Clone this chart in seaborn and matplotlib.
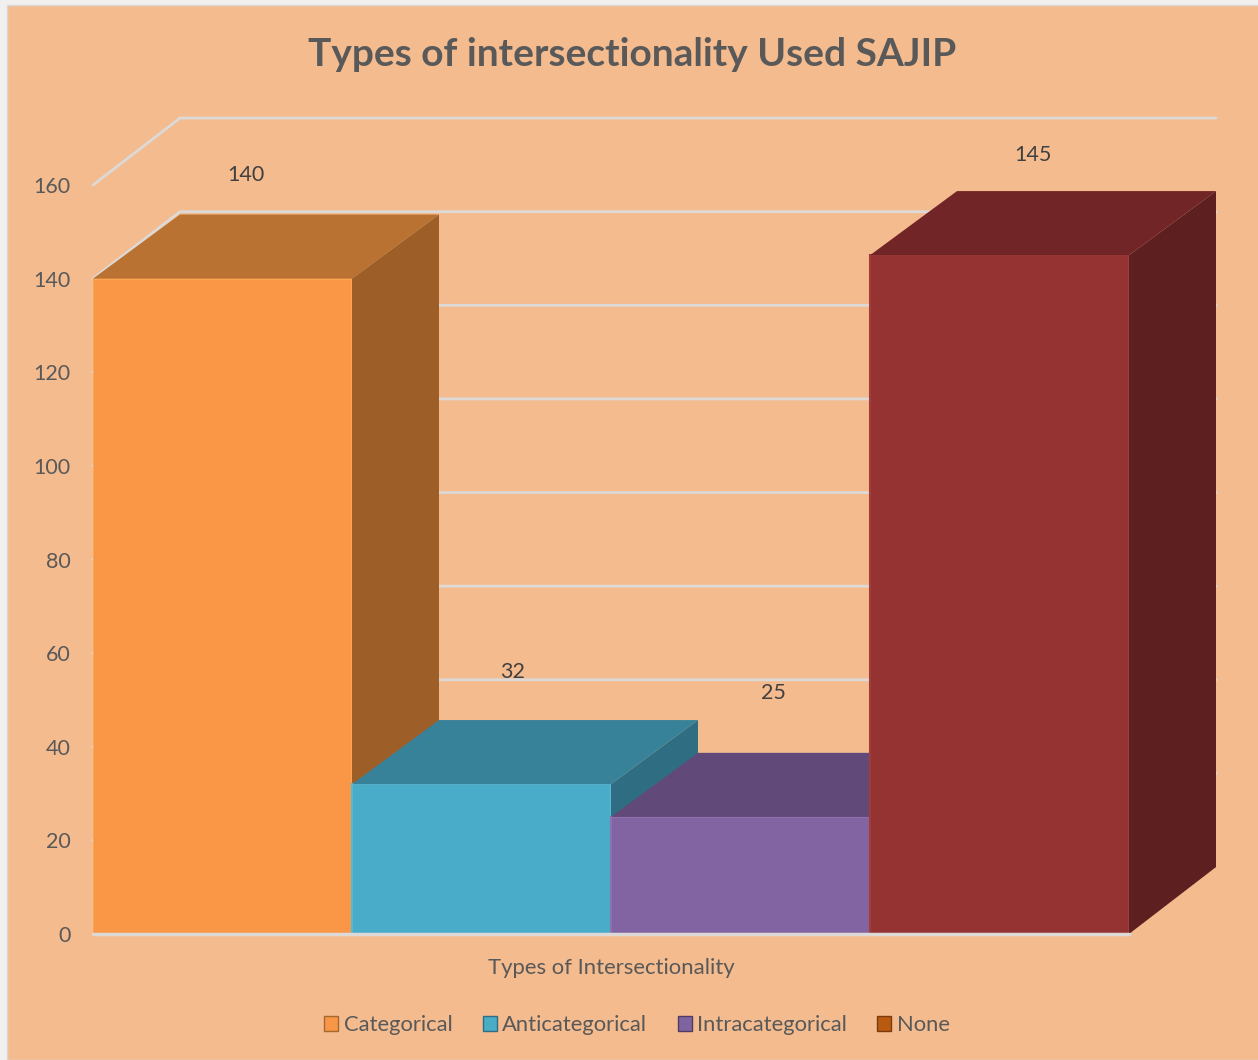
import pandas as pd
import matplotlib.pyplot as plt
import seaborn as sns
from matplotlib.patches import Patch, Polygon, Rectangle

categories = ["Categorical", "Anticategorical", "Intracategorical", "None"]
counts = [140, 32, 25, 145]
y_ticks = [0, 20, 40, 60, 80, 100, 120, 140, 160]

front_colors = ["#FA9746", "#49ACC8", "#8364A3", "#953333"]
top_colors = ["#B97231", "#388299", "#614A7A", "#722526"]
side_colors = ["#9E5E28", "#2F6E82", "#4F3C64", "#5E1F20"]
edge_colors = ["#FDA550", "#5AB9D2", "#9071B0", "#A03C3A"]
legend_colors = ["#F79646", "#4BACC6", "#8064A2", "#B85A10"]
legend_edges = ["#A5682F", "#2F6E82", "#4F3C64", "#7A3C0C"]

# pixel offsets of the value labels from the top centre of each bar
label_offsets = [(23, 104), (31, 112), (33, 124), (33, 100)]

BG = "#F4BB8F"
GRID = "#DCD9D6"
TEXT = "#595959"
DEPTH_X = 87 / 259   # in category units
DEPTH_Y = 14.3       # in value units
TOP_DEPTH_Y = 13.7   # bevelled bar tops stop a little short of the full depth

sns.set_theme(style="white")
plt.rcParams["font.family"] = ["Lato", "DejaVu Sans"]

fig = plt.figure(figsize=(12.58, 10.60), dpi=100, facecolor="#F2F0EE")
fig.patches.append(Rectangle((7 / 1258, 0), 1, 1055 / 1060, transform=fig.transFigure,
                             facecolor=BG, edgecolor="#D9D9D9", lw=1, zorder=-1))
ax = fig.add_axes([93 / 1258, 126 / 1060, 1036 / 1258, 749 / 1060])
ax.patch.set_alpha(0)

df = pd.DataFrame({"type": categories, "count": counts})
sns.barplot(data=df, x="type", y="count", hue="type", order=categories,
            palette=dict(zip(categories, front_colors)), width=1, dodge=False,
            saturation=1, legend=False, ax=ax)
ax.set_xlim(-0.5, 3.5)
ax.set_ylim(0, 160)

# back wall gridlines with the short diagonal on the left wall
for t in y_ticks[1:]:
    ax.plot([-0.5, -0.5 + DEPTH_X, 3.5 + DEPTH_X], [t, t + DEPTH_Y, t + DEPTH_Y],
            color=GRID, lw=2, zorder=1, clip_on=False)

# fake 3D: top and side faces worked out from each bar
for i, bar in enumerate(list(ax.patches)):
    x0 = bar.get_x()
    x1 = x0 + bar.get_width()
    h = bar.get_height()
    bar.set_zorder(3 + i)
    bar.set_edgecolor(edge_colors[i])
    bar.set_linewidth(1.5)
    top = [(x0, h), (x1, h), (x1 + DEPTH_X, h + TOP_DEPTH_Y), (x0 + DEPTH_X, h + TOP_DEPTH_Y)]
    side = [(x1, 0), (x1 + DEPTH_X, DEPTH_Y), (x1 + DEPTH_X, h + TOP_DEPTH_Y), (x1, h)]
    ax.add_patch(Polygon(side, closed=True, facecolor=side_colors[i], edgecolor="none",
                         zorder=3 + i, clip_on=False))
    ax.add_patch(Polygon(top, closed=True, facecolor=top_colors[i], edgecolor="none",
                         zorder=3 + i, clip_on=False))
    ax.annotate(str(counts[i]), ((x0 + x1) / 2, h), xytext=label_offsets[i],
                textcoords="offset pixels", ha="center", va="center",
                fontsize=15.5, color="#404040", zorder=20, annotation_clip=False)

ax.axhline(0, color=GRID, lw=2.5, zorder=12, clip_on=False)
sns.despine(ax=ax, left=True, bottom=True)
ax.set_xticks([])
ax.set_yticks(y_ticks)
ax.tick_params(axis="y", length=0, pad=16, labelsize=15.5, labelcolor=TEXT)
ax.set_ylabel("")
ax.set_xlabel("Types of Intersectionality", fontsize=15.9, color=TEXT, labelpad=17)

fig.text(632 / 1258, 1 - 55 / 1060, "Types of intersectionality Used SAJIP", ha="center",
         va="center", fontsize=28, fontweight="bold", color=TEXT)

handles = [Patch(facecolor=c, edgecolor=e, lw=1) for c, e in zip(legend_colors, legend_edges)]
fig.legend(handles, categories, loc="center", bbox_to_anchor=(637 / 1258, 1 - 1025 / 1060),
           ncol=4, frameon=False, fontsize=15.8, labelcolor=TEXT, handlelength=0.64,
           handleheight=0.64, handletextpad=0.25, columnspacing=1.38)

fig.savefig("out.png", dpi=100, facecolor=fig.get_facecolor())
